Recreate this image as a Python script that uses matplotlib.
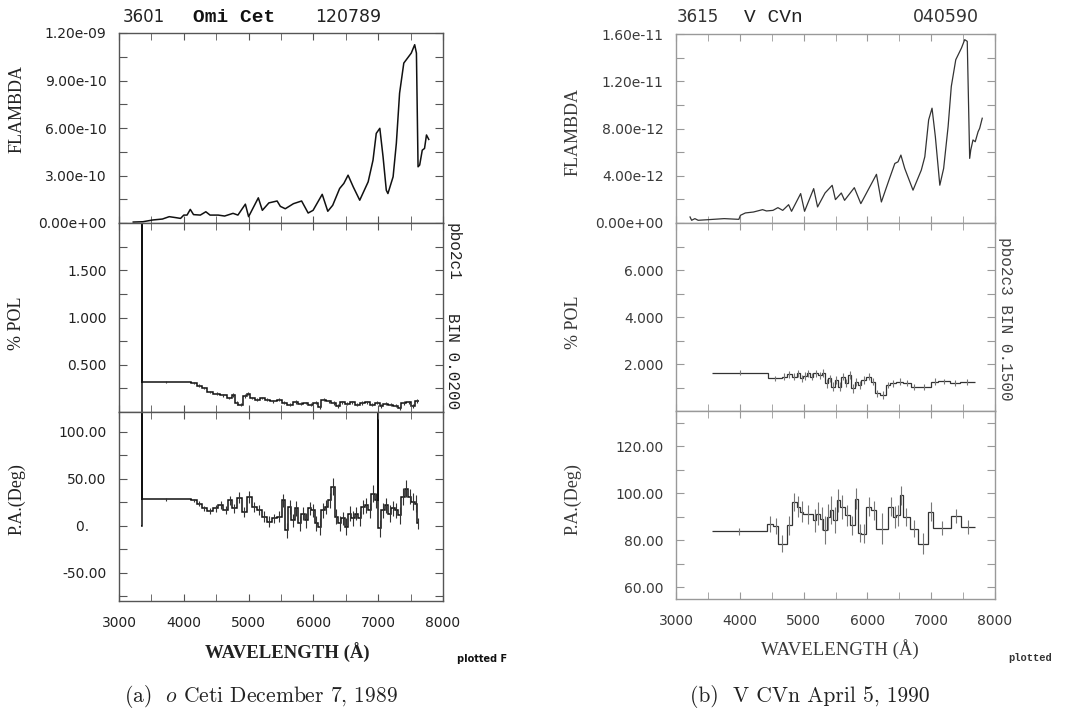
import numpy as np
import matplotlib
matplotlib.use("Agg")
import matplotlib.pyplot as plt
from matplotlib.ticker import FixedLocator, FuncFormatter

# ---- panel (a): Omi Cet 120789 ----
flux_a_wave = [3220, 3370, 3520, 3670, 3775, 3875, 3950, 4000, 4050, 4100, 4150, 4255,
               4340, 4405, 4530, 4630, 4760, 4835, 4950, 5000, 5150, 5212, 5313, 5440,
               5490, 5566, 5692, 5818, 5919, 5995, 6136, 6222, 6298, 6405, 6470, 6535,
               6615, 6715, 6845, 6920, 6970, 7025, 7075, 7125, 7150, 7230, 7280, 7330,
               7395, 7510, 7563, 7590, 7615, 7640, 7680, 7715, 7745, 7780]
flux_a = [0.06, 0.08, 0.19, 0.25, 0.40, 0.34, 0.29, 0.50, 0.50, 0.86, 0.53, 0.50,
          0.71, 0.50, 0.50, 0.44, 0.61, 0.50, 1.19, 0.40, 1.59, 0.80, 1.27, 1.39,
          1.05, 0.90, 1.22, 1.39, 0.63, 0.80, 1.81, 0.74, 1.12, 2.18, 2.50, 3.02,
          2.28, 1.44, 2.60, 3.97, 5.66, 5.98, 4.18, 2.07, 1.86, 2.92, 5.03, 8.20,
          10.10, 10.73, 11.26, 10.73, 3.55, 3.66, 4.60, 4.71, 5.56, 5.28]  # 1e-10

pol_a_edges = [3345, 3348, 3349, 4110, 4197, 4274, 4352, 4454, 4557, 4660, 4737, 4788,
               4840, 4917, 4968, 5019, 5097, 5174, 5251, 5328, 5431, 5508, 5585, 5688,
               5765, 5842, 5919, 5996, 6073, 6124, 6202, 6279, 6356, 6407, 6484, 6561,
               6638, 6716, 6793, 6870, 6947, 7024, 7075, 7152, 7229, 7306, 7357, 7435,
               7512, 7563, 7630]
pol_a = [-1, 9, 0.318, 0.307, 0.28, 0.254, 0.21, 0.195, 0.177, 0.149, 0.184, 0.096,
         0.079, 0.167, 0.195, 0.149, 0.13, 0.149, 0.13, 0.114, 0.13, 0.096, 0.079, 0.104,
         0.086, 0.096, 0.079, 0.096, 0.054, 0.13, 0.114, 0.096, 0.061, 0.104, 0.086, 0.104,
         0.079, 0.096, 0.104, 0.079, 0.096, 0.061, 0.086, 0.079, 0.068, 0.044, 0.096, 0.104,
         0.061, 0.114]
pol_a_err = [0, 0, 0.012, 0.012, 0.014, 0.014, 0.013, 0.012, 0.014, 0.015, 0.02, 0.018,
             0.016, 0.02, 0.018, 0.015, 0.016, 0.015, 0.016, 0.017, 0.015, 0.016, 0.017, 0.018,
             0.016, 0.015, 0.017, 0.016, 0.02, 0.018, 0.016, 0.017, 0.02, 0.016, 0.015, 0.017,
             0.016, 0.017, 0.015, 0.018, 0.016, 0.02, 0.017, 0.016, 0.018, 0.02, 0.018, 0.017,
             0.02, 0.02]

pa_a_edges = [3345, 3348, 3349, 4110, 4197, 4274, 4352, 4454, 4531, 4609, 4686, 4737,
              4814, 4891, 4968, 5045, 5122, 5200, 5277, 5354, 5431, 5508, 5559, 5611,
              5662, 5713, 5765, 5816, 5868, 5919, 5970, 6022, 6073, 6124, 6176, 6227,
              6279, 6330, 6381, 6433, 6484, 6536, 6587, 6638, 6690, 6741, 6793, 6844,
              6895, 6947, 6996, 7002, 7050, 7101, 7152, 7204, 7255, 7306, 7358, 7409,
              7461, 7512, 7563, 7599, 7630]
pa_a = [0, 300, 28.2, 27, 23.6, 18.4, 15.5, 18.4, 21.9, 16.6, 27, 18.4,
        30, 14.8, 30.7, 20, 16.6, 9.5, 4.2, 7.8, 9.5, 27, -4.6, 20,
        6, 18.4, 2.5, 13, 6, 18.4, 16.6, 2.5, -1, 16.6, 20, 27,
        41.3, 9.5, 2.5, 7.8, -1, 13, 7.8, 13, 7.8, 20, 21.9, 16.6,
        34.2, 27, 130, -2.8, 16.6, 21.9, 13, 18.4, 16.6, 11.3, 30.7, 39.5,
        30.7, 25.4, 23.6, 2.5]
pa_a_err = [0, 0, 1.5, 2, 2.5, 3, 3, 3.5, 4, 4, 5, 5,
            6, 5, 6, 5, 5, 6, 6, 5, 6, 7, 8, 7,
            7, 8, 8, 7, 8, 7, 7, 8, 9, 8, 7, 8,
            9, 8, 8, 7, 9, 8, 8, 7, 8, 7, 8, 8,
            9, 8, 0, 9, 8, 8, 9, 8, 8, 9, 9, 9,
            8, 9, 9, 6]

# ---- panel (b): V CVn 040590 ----
flux_b_wave = [3220, 3245, 3296, 3347, 3500, 3755, 3985, 4010, 4087, 4214, 4357, 4418,
               4520, 4597, 4673, 4765, 4811, 4954, 5015, 5158, 5219, 5336, 5448, 5499,
               5591, 5642, 5795, 5897, 6142, 6219, 6346, 6430, 6480, 6525, 6585, 6715,
               6845, 6900, 6960, 7013, 7065, 7135, 7195, 7265, 7315, 7385, 7475, 7525,
               7565, 7603, 7620, 7655, 7690, 7735, 7760, 7800]
flux_b = [0.51, 0.23, 0.37, 0.23, 0.28, 0.37, 0.31, 0.65, 0.85, 0.93, 1.13, 1.02,
          1.07, 1.30, 1.07, 1.55, 0.99, 2.49, 0.99, 2.91, 1.36, 2.54, 3.19, 1.98,
          2.54, 1.92, 2.99, 1.64, 4.12, 1.78, 3.76, 5.04, 5.18, 5.75, 4.62, 2.78,
          4.48, 5.61, 8.73, 9.72, 7.31, 3.20, 4.62, 8.16, 11.56, 13.82, 14.82, 15.52,
          15.38, 5.47, 6.18, 7.03, 6.88, 7.73, 8.02, 8.87]  # 1e-12

pol_b_edges = [3558, 4446, 4654, 4733, 4811, 4889, 4941, 4994, 5046, 5098,
               5150, 5229, 5281, 5333, 5385, 5437, 5489, 5542, 5594, 5646,
               5698, 5750, 5803, 5855, 5907, 5985, 6064, 6116, 6194, 6298,
               6351, 6455, 6559, 6690, 6768, 7003, 7107, 7290, 7447, 7681]
pol_b = [1.63, 1.39, 1.46, 1.57, 1.46, 1.60, 1.39, 1.49, 1.60, 1.46,
         1.60, 1.53, 1.60, 1.18, 1.39, 1.04, 1.32, 1.04, 1.46, 1.18,
         1.53, 0.96, 1.25, 1.11, 1.32, 1.46, 1.25, 0.75, 0.68, 1.11,
         1.18, 1.25, 1.18, 1.04, 1.01, 1.25, 1.26, 1.18, 1.23]
pol_b_err = [0.1, 0.12, 0.14, 0.15, 0.14, 0.16, 0.15, 0.15, 0.16, 0.15,
             0.16, 0.15, 0.17, 0.18, 0.16, 0.18, 0.17, 0.18, 0.16, 0.17,
             0.18, 0.18, 0.17, 0.16, 0.15, 0.16, 0.15, 0.16, 0.15, 0.14,
             0.15, 0.14, 0.13, 0.13, 0.12, 0.14, 0.12, 0.12, 0.13]

pa_b_edges = [3558, 4420, 4524, 4602, 4733, 4811, 4889, 4941, 4994, 5150,
              5202, 5255, 5307, 5359, 5411, 5463, 5516, 5568, 5646, 5724,
              5803, 5855, 5907, 5985, 6064, 6142, 6324, 6403, 6455, 6507,
              6559, 6664, 6794, 6951, 7029, 7316, 7473, 7681]
pa_b = [83.8, 86.8, 86.0, 78.6, 86.4, 96.3, 94.2, 92.1, 91.1, 88.5,
        91.3, 89.2, 84.3, 89.9, 92.8, 88.5, 97.0, 94.2, 90.6, 86.4,
        97.7, 83.1, 82.8, 94.2, 92.8, 85.0, 94.2, 89.9, 90.6, 99.1,
        89.9, 85.0, 78.6, 92.1, 85.2, 90.2, 85.7]
pa_b_err = [1.5, 3.5, 3.5, 3.5, 4, 4, 4.5, 4.5, 4, 5,
            5, 5, 6, 5.5, 6, 5.5, 5, 5, 4.5, 4,
            4.5, 4, 4, 4, 4, 6.5, 4, 4.5, 4.5, 4,
            4, 3.5, 4.5, 4, 3, 3, 3]

# tick marks and which of them carry labels
x_ticks = [3000, 4000, 5000, 6000, 7000, 8000]
x_minor = [3500, 4500, 5500, 6500, 7500]
flux_a_ticks = [0, 1.5e-10, 3e-10, 4.5e-10, 6e-10, 7.5e-10, 9e-10, 1.05e-9, 1.2e-9]
flux_a_labels = [0, 3e-10, 6e-10, 9e-10, 1.2e-9]
pol_a_ticks = [0.25, 0.5, 0.75, 1.0, 1.25, 1.5, 1.75]
pol_a_labels = [0.5, 1.0, 1.5]
pa_a_ticks = [-75, -50, -25, 0, 25, 50, 75, 100]
pa_a_labels = [-50, 0, 50, 100]
flux_b_ticks = [0, 2e-12, 4e-12, 6e-12, 8e-12, 1e-11, 1.2e-11, 1.4e-11, 1.6e-11]
flux_b_labels = [0, 4e-12, 8e-12, 1.2e-11, 1.6e-11]
pol_b_ticks = [1, 2, 3, 4, 5, 6, 7]
pol_b_labels = [2.0, 4.0, 6.0]
pa_b_ticks = [60, 70, 80, 90, 100, 110, 120, 130]
pa_b_labels = [60, 80, 100, 120]

SERIF = "Liberation Serif"
MONO = "Liberation Mono"
SANS = "DejaVu Sans"


def label_maker(labels, fmt):
    def f(v, pos):
        hit = any(v == t or abs(v - t) <= 1e-6 * max(abs(t), abs(v)) for t in labels)
        return fmt(v) if hit else ""
    return FuncFormatter(f)


def pa_text(v):
    if abs(v) < 1e-9:
        return "0.\u2007\u2007"
    return "%.2f" % v


def style_axes(ax, col, tcol, xlabels=False):
    ax.set_xlim(3000, 8000)
    ax.xaxis.set_major_locator(FixedLocator(x_ticks))
    ax.xaxis.set_minor_locator(FixedLocator(x_minor))
    ax.tick_params(which="both", direction="in", top=True, right=True,
                   color=col, labelcolor=tcol, labelsize=10,
                   labelfontfamily=SANS)
    ax.tick_params(axis="x", which="both", length=5, pad=11)
    ax.tick_params(axis="y", which="both", length=6, pad=9)
    for s in ax.spines.values():
        s.set_color(col)
        s.set_linewidth(1.0)
    if not xlabels:
        ax.tick_params(axis="x", labelbottom=False)


def draw_steps(ax, edges, vals, errs, lc, ec, lw):
    ax.stairs(vals, edges, baseline=None, color=lc, linewidth=lw)
    centers = [(edges[i] + edges[i + 1]) / 2 for i in range(len(vals))]
    ax.errorbar(centers, vals, yerr=errs, fmt="none", ecolor=ec,
                elinewidth=0.8, capsize=0)


fig = plt.figure(figsize=(10.66, 7.12), dpi=100)


def make_panel(x0, w, tops, col, tcol, lc, ec, lw, flux_w, flux, fscale, fmax,
               f_ticks, f_labels, pol_e, pol_v, pol_err, pmax, p_ticks, p_labels,
               pa_e, pa_v, pa_err, palim, a_ticks, a_labels, lab, xlab_weight):
    H = 712.0
    axes = []
    for i in range(3):
        top, bot = tops[i], tops[i + 1]
        ax = fig.add_axes([x0 / 1066.0, 1 - bot / H, w / 1066.0, (bot - top) / H])
        style_axes(ax, col, tcol, xlabels=(i == 2))
        axes.append(ax)
    a1, a2, a3 = axes

    a1.plot(flux_w, np.array(flux) * fscale, color=lc, linewidth=lw)
    a1.set_ylim(0, fmax)
    a1.yaxis.set_major_locator(FixedLocator(f_ticks))
    a1.yaxis.set_major_formatter(label_maker(f_labels, lambda v: "%.2e" % v))

    draw_steps(a2, pol_e, pol_v, pol_err, lc, ec, lw)
    a2.set_ylim(0, pmax)
    a2.yaxis.set_major_locator(FixedLocator(p_ticks))
    a2.yaxis.set_major_formatter(label_maker(p_labels, lambda v: "%.3f" % v))

    draw_steps(a3, pa_e, pa_v, pa_err, lc, ec, lw)
    a3.set_ylim(*palim)
    a3.yaxis.set_major_locator(FixedLocator(a_ticks))
    a3.yaxis.set_major_formatter(label_maker(a_labels, pa_text))

    lx = lab[0]
    a1.set_ylabel("FLAMBDA", family=SERIF, fontsize=13, color=tcol)
    a1.yaxis.set_label_coords(lx, lab[1])
    a2.set_ylabel("% POL", family=SERIF, fontsize=13, color=tcol)
    a2.yaxis.set_label_coords(lx, lab[2])
    a3.set_ylabel("P.A.(Deg)", family=SERIF, fontsize=13, color=tcol)
    a3.yaxis.set_label_coords(lx, lab[3])
    a3.set_xlabel("WAVELENGTH (\u00c5)", family=SERIF, fontsize=13.5,
                  weight=xlab_weight, color=tcol)
    a3.xaxis.set_label_coords(lab[4], lab[5])
    return axes


make_panel(119, 324, [33, 223, 412, 601], "#555555", "#222222", "#111111", "#333333", 1.1,
           flux_a_wave, flux_a, 1e-10, 1.2e-9, flux_a_ticks, flux_a_labels,
           pol_a_edges, pol_a, pol_a_err, 2.0, pol_a_ticks, pol_a_labels,
           pa_a_edges, pa_a, pa_a_err, (-80, 121), pa_a_ticks, pa_a_labels,
           [-0.29, 0.6, 0.47, 0.54, 0.52, -0.22], "bold")

make_panel(676, 319, [34, 223, 411, 599], "#999999", "#3a3a3a", "#333333", "#777777", 0.9,
           flux_b_wave, flux_b, 1e-12, 1.6e-11, flux_b_ticks, flux_b_labels,
           pol_b_edges, pol_b, pol_b_err, 8.0, pol_b_ticks, pol_b_labels,
           pa_b_edges, pa_b, pa_b_err, (55, 135), pa_b_ticks, pa_b_labels,
           [-0.295, 0.48, 0.47, 0.53, 0.515, -0.215], "normal")

# titles above each panel
fig.text(123 / 1066, 1 - 17 / 712, "3601", family=SANS, fontsize=12, va="center", color="#222222")
fig.text(193 / 1066, 1 - 17 / 712, "Omi Cet", family=MONO, fontsize=14, weight="bold",
         va="center", color="#111111")
fig.text(315 / 1066, 1 - 17 / 712, "120789", family=SANS, fontsize=12.5, va="center", color="#222222")
fig.text(677 / 1066, 1 - 17 / 712, "3615", family=SANS, fontsize=12, va="center", color="#333333")
fig.text(744 / 1066, 1 - 17 / 712, "V CVn", family=MONO, fontsize=14, va="center", color="#222222")
fig.text(913 / 1066, 1 - 17 / 712, "040590", family=SANS, fontsize=12.5, va="center", color="#333333")

# side annotations
fig.text(453 / 1066, 1 - 223 / 712, "pbo2c1", family=MONO, fontsize=11.5, rotation=-90,
         ha="center", va="top", color="#222222")
fig.text(453 / 1066, 1 - 313 / 712, "BIN 0.0200", family=MONO, fontsize=11.5, rotation=-90,
         ha="center", va="top", color="#222222")
fig.text(1005 / 1066, 1 - 237 / 712, "pbo2c3 BIN 0.1500", family=MONO, fontsize=11.5,
         rotation=-90, ha="center", va="top", color="#444444")
fig.text(457 / 1066, 1 - 659 / 712, "plotted F", family=SANS, fontsize=7, weight="bold",
         va="center", color="#111111")
fig.text(1008 / 1066, 1 - 658 / 712, "plotted", family=MONO, fontsize=7.5, weight="bold",
         va="center", color="#333333")

# captions
plt.rcParams["mathtext.fontset"] = "cm"
fig.text(261 / 1066, 1 - 697 / 712, "(a)  $o$ Ceti December 7, 1989", family="cmr10",
         fontsize=15.5, ha="center", va="center", color="#222222")
fig.text(810 / 1066, 1 - 697 / 712, "(b)  V CVn April 5, 1990", family="cmr10",
         fontsize=15.5, ha="center", va="center", color="#222222")

fig.savefig("out.png", dpi=100, facecolor="white")
